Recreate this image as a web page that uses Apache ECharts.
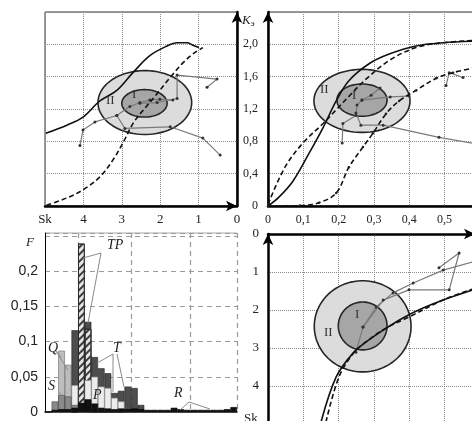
<!DOCTYPE html>
<html><head><meta charset="utf-8">
<script src="https://cdn.jsdelivr.net/npm/echarts@6/dist/echarts.min.js"></script>
<style>html,body{margin:0;padding:0;background:#fff}#c{width:472px;height:421px}</style>
</head><body><div id="c"></div>
<script>
// ---------- top-left panel: Sk (x, reversed) vs K ----------
const tlSolid = [[4.98,0.90],[4.43,1.00],[4.01,1.10],[3.57,1.30],[3.13,1.43],[2.71,1.65],[2.27,1.86],[1.82,1.98],[1.56,2.02],[1.30,2.02],[1.15,1.99],[0.99,1.96]];
const tlDashed = [[4.96,0.01],[4.43,0.10],[4.01,0.20],[3.57,0.36],[3.23,0.57],[2.97,0.78],[2.71,1.02],[2.45,1.18],[2.08,1.39],[1.74,1.59],[1.41,1.77],[1.15,1.88],[0.89,1.96]];
const tlTraj1 = [[0.78,1.47],[0.52,1.57],[1.56,1.62],[1.56,1.33],[2.08,1.28],[2.53,1.27]];
const tlTraj2 = [[4.09,0.75],[4.01,0.94],[3.70,1.04],[3.13,1.12],[2.92,0.96],[1.74,0.98],[0.89,0.84],[0.44,0.63]];
const tlTraj3 = [[3.13,1.12],[2.79,1.23],[2.53,1.28],[2.27,1.31],[2.01,1.32],[1.67,1.31]];
const tlEllipses = [[2.40,1.28,1.22,0.395],[2.41,1.27,0.59,0.17]]; // cx, cy, rx, ry

// ---------- top-right panel: x vs K ----------
const trSolid = [[0,0],[0.031,0.11],[0.071,0.31],[0.116,0.65],[0.156,0.97],[0.193,1.30],[0.229,1.55],[0.286,1.76],[0.343,1.88],[0.419,1.98],[0.496,2.02],[0.586,2.04]];
const trDashed1 = [[0,0.02],[0.048,0.48],[0.099,0.78],[0.156,1.02],[0.193,1.19],[0.232,1.37],[0.275,1.56],[0.343,1.80],[0.419,1.96],[0.496,2.02],[0.586,2.05]];
const trDashed2 = [[0,0],[0.09,0.005],[0.144,0.04],[0.193,0.16],[0.229,0.48],[0.269,0.73],[0.297,0.90],[0.334,1.14],[0.371,1.30],[0.419,1.43],[0.476,1.58],[0.524,1.65],[0.586,1.71]];
const trTraj1 = [[0.210,0.78],[0.212,1.02],[0.249,1.12],[0.252,1.25],[0.266,1.31],[0.292,1.37],[0.317,1.46]];
const trTraj2 = [[0.249,1.15],[0.263,1.00],[0.326,1.00],[0.484,0.85],[0.586,0.77]];
const trTraj3 = [[0.266,1.31],[0.346,1.35],[0.399,1.36]];
const trTraj4 = [[0.504,1.49],[0.513,1.65],[0.552,1.59]];
const trEllipses = [[0.266,1.30,0.136,0.39],[0.266,1.31,0.071,0.20]];

// ---------- bottom-right panel: x vs Sk (down) ----------
const brSolid = [[0.150,4.95],[0.193,3.76],[0.241,3.13],[0.278,2.84],[0.326,2.53],[0.382,2.21],[0.439,1.95],[0.513,1.68],[0.586,1.45]];
const brDashed = [[0.164,4.95],[0.201,3.76],[0.244,3.11],[0.280,2.82],[0.330,2.50],[0.400,2.18],[0.500,1.72],[0.586,1.43]];
const brTraj1 = [[0.249,3.11],[0.269,2.45],[0.306,1.92],[0.354,1.55],[0.411,1.29],[0.496,0.95],[0.586,0.72]];
const brTraj2 = [[0.269,2.45],[0.326,1.74],[0.399,1.47],[0.513,1.47],[0.541,0.50],[0.484,0.89]];
const brEllipses = [[0.268,2.43,0.137,1.20],[0.268,2.42,0.069,0.63]];

// ---------- bottom-left histogram F ----------
const bins = ['0','1','2','3','4','5','6','7','8','9','10','11','12','13','14','15','16','17','18','19','20','21','22','23','24','25','26','27','28'];
const histQ  = [0,0,0.087,0.067,0,0,0,0,0,0,0,0,0,0,0,0,0,0,0,0,0,0,0,0,0,0,0,0,0];
const histT  = [0,0,0,0,0.116,0,0.128,0.078,0.062,0.055,0.027,0.030,0.036,0.034,0.010,0,0,0,0,0,0,0,0,0,0,0,0,0,0];
const histTP = [0,0,0,0,0,0.239,0.118,0,0,0,0,0,0,0,0,0,0,0,0,0,0,0,0,0,0,0,0,0,0];
const histP  = [0,0,0,0,0.038,0,0.045,0.050,0.036,0.034,0.020,0.015,0,0,0,0,0,0,0,0,0,0,0,0,0,0,0,0,0];
const histS  = [0,0.015,0.024,0.022,0.010,0,0,0,0,0,0,0,0,0,0,0,0,0,0,0,0,0,0,0,0,0,0,0,0];
const histR  = [0,0.003,0.004,0.004,0.006,0.013,0.018,0.012,0.006,0.005,0.004,0.005,0.004,0.005,0.004,0.003,0.003,0.003,0.003,0.006,0.004,0.003,0.003,0.003,0.003,0.003,0.003,0.004,0.007];
const histSplits = [5,13,22];

const serif = "'Liberation Serif','DejaVu Serif',serif";
const sans = "'Liberation Sans','DejaVu Sans',sans-serif";
const dotted = {show:true, lineStyle:{color:'#8a8a8a', type:'dotted', width:1}};
const thick = (sym) => ({show:true, lineStyle:{color:'#000', width:2.5}, symbol:sym, symbolSize:[8,11]});
const comma1 = v => v === 0 ? '0' : v.toFixed(1).replace('.', ',');
const comma2 = v => v === 0 ? '0' : String(parseFloat(v.toFixed(2))).replace('.', ',');

function ellipseItem(params, api){
  const c = api.coord([api.value(0), api.value(1)]);
  const s = api.size([api.value(2), api.value(3)]);
  const rx = Math.abs(s[0]), ry = Math.abs(s[1]);
  const pts = [];
  for (let i = 0; i < 90; i++) { const a = i / 90 * 2 * Math.PI; pts.push([c[0] + rx*Math.cos(a), c[1] + ry*Math.sin(a)]); }
  const inner = params.dataIndex === 1;
  return {type:'polygon', shape:{points:pts}, style:{fill: inner ? '#a6a6a6' : '#dcdcdc', stroke:'#262626', lineWidth:1.6}};
}
const ell = (data, gi) => ({type:'custom', xAxisIndex:gi, yAxisIndex:gi, renderItem:ellipseItem, data, encode:{x:0,y:1}, z:1, silent:true});
const curve = (data, gi, dashed) => ({type:'line', xAxisIndex:gi, yAxisIndex:gi, data, smooth:0.35, showSymbol:false, z:5,
  lineStyle:{color:'#111', width:1.6, type: dashed ? [5,3] : 'solid'}});
const traj = (data, gi) => ({type:'line', xAxisIndex:gi, yAxisIndex:gi, data, symbol:'circle', symbolSize:3, z:4,
  itemStyle:{color:'#333'}, lineStyle:{color:'#7a7a7a', width:1.2}});
const bar = (data, color, border, extra) => Object.assign({type:'bar', xAxisIndex:2, yAxisIndex:2, data, barGap:'-100%', barCategoryGap:'0%', barWidth:'100%',
  itemStyle:{color, borderColor:border, borderWidth:0.6}}, extra || {});

const chart = echarts.init(document.getElementById('c'), null, {renderer:'canvas'});
chart.setOption({
  animation:false,
  backgroundColor:'#fff',
  grid:[
    {left:45, top:12, width:192, height:194, show:true, borderColor:'#333', borderWidth:1, outerBoundsMode:'none', containLabel:false},
    {left:268, top:12, width:207, height:194, show:true, borderColor:'#333', borderWidth:1, outerBoundsMode:'none', containLabel:false},
    {left:45, top:233, width:192, height:179, outerBoundsMode:'none', containLabel:false},
    {left:268, top:234, width:207, height:190, outerBoundsMode:'none', containLabel:false}
  ],
  xAxis:[
    {gridIndex:0, type:'value', min:0, max:5, interval:1, inverse:true, position:'bottom',
     axisLine:thick(['none','arrow']), axisTick:{show:false}, splitLine:dotted,
     axisLabel:{showMinLabel:true, showMaxLabel:true, margin:7, color:'#222', fontFamily:serif, fontSize:13, formatter:v => v === 5 ? 'Sk' : String(v)}},
    {gridIndex:1, type:'value', min:0, max:0.586, interval:0.1, position:'bottom',
     axisLine:thick(['none','none']), axisTick:{show:false}, splitLine:dotted,
     axisLabel:{margin:8, color:'#222', fontFamily:serif, fontSize:12, formatter:v => v > 0.55 ? '' : comma1(v)}},
    {gridIndex:2, type:'category', data:bins, position:'bottom',
     axisLine:{show:true, lineStyle:{color:'#000', width:1.5}}, axisTick:{show:false}, axisLabel:{show:false},
     splitLine:{show:true, interval:(i) => histSplits.indexOf(i) >= 0, lineStyle:{color:'#9a9a9a', type:[5,4], width:1.2}}},
    {gridIndex:3, type:'value', min:0, max:0.586, interval:0.1, position:'top',
     axisLine:thick(['none','arrow']), axisTick:{show:false}, axisLabel:{show:false}, splitLine:dotted}
  ],
  yAxis:[
    {gridIndex:0, type:'value', min:0, max:2.4, interval:0.4, position:'right',
     axisLine:thick(['none','arrow']), axisTick:{show:false}, axisLabel:{show:false}, splitLine:dotted},
    {gridIndex:1, type:'value', min:0, max:2.4, interval:0.4, position:'left',
     axisLine:thick(['none','arrow']), axisTick:{show:false}, splitLine:dotted,
     axisLabel:{margin:10, color:'#222', fontFamily:serif, fontSize:12, formatter:v => v > 2.2 ? '' : comma1(v)}},
    {gridIndex:2, type:'value', min:0, max:0.254, interval:0.05, position:'left',
     axisLine:{show:true, lineStyle:{color:'#000', width:1}}, axisTick:{show:false},
     splitLine:{show:true, lineStyle:{color:'#9a9a9a', type:[5,4], width:1.2}},
     axisLabel:{margin:7, color:'#222', fontFamily:sans, fontSize:14, formatter:v => v > 0.24 ? '' : comma2(v)}},
    {gridIndex:3, type:'value', min:0, max:5, interval:1, inverse:true, position:'left',
     axisLine:thick(['none','arrow']), axisTick:{show:false}, splitLine:dotted,
     axisLabel:{margin:9, color:'#222', fontFamily:serif, fontSize:13, formatter:v => v >= 5 ? '' : String(v)}}
  ],
  series:[
    ell(tlEllipses, 0), curve(tlSolid, 0, false), curve(tlDashed, 0, true),
    traj(tlTraj1, 0), traj(tlTraj2, 0), traj(tlTraj3, 0),
    ell(trEllipses, 1), curve(trSolid, 1, false), curve(trDashed1, 1, true),
    Object.assign(curve(trDashed2, 1, true), {showSymbol:true, symbol:'circle', symbolSize:2.5, itemStyle:{color:'#222'}}),
    traj(trTraj1, 1), traj(trTraj2, 1), traj(trTraj3, 1), traj(trTraj4, 1),
    ell(brEllipses, 3), curve(brSolid, 3, false), curve(brDashed, 3, true),
    traj(brTraj1, 3), traj(brTraj2, 3),
    bar(histQ, '#bdbdbd', '#6a6a6a'),
    bar(histT, '#4d4d4d', '#1e1e1e'),
    bar(histTP, '#e4e4e4', '#222', {itemStyle:{color:'#e4e4e4', borderColor:'#222', borderWidth:0.8,
      decal:{symbol:'rect', symbolSize:1, color:'#3a3a3a', dashArrayX:[1,0], dashArrayY:[2,3], rotation:-Math.PI/4}}}),
    bar(histP, '#ececec', '#9a9a9a'),
    bar(histS, '#8a8a8a', '#444'),
    bar(histR, '#111', '#000')
  ],
  graphic:[
    {type:'text', left:242, top:14, style:{text:'{k|K}{s|э}', rich:{k:{fontFamily:serif, fontStyle:'italic', fontSize:13, fill:'#222'}, s:{fontFamily:serif, fontSize:9, fill:'#222', padding:[6,0,0,0]}}}},
    {type:'text', left:244, top:412, style:{text:'Sk', font:'13px '+serif, fill:'#222'}},
    {type:'text', left:26, top:236, style:{text:'F', font:'italic 13px '+serif, fill:'#222'}},
    {type:'line', shape:{x1:45, y1:233, x2:237, y2:233}, style:{stroke:'#aaa', lineWidth:1}},
    // ellipse labels
    {type:'text', left:106, top:94, z:10, style:{text:'II', font:'13px '+serif, fill:'#333'}},
    {type:'text', left:132, top:88, z:10, style:{text:'I', font:'13px '+serif, fill:'#333'}},
    {type:'text', left:320, top:83, z:10, style:{text:'II', font:'13px '+serif, fill:'#333'}},
    {type:'text', left:352, top:89, z:10, style:{text:'I', font:'13px '+serif, fill:'#333'}},
    {type:'text', left:324, top:326, z:10, style:{text:'II', font:'13px '+serif, fill:'#333'}},
    {type:'text', left:355, top:308, z:10, style:{text:'I', font:'13px '+serif, fill:'#333'}},
    // histogram annotations
    {type:'text', left:107, top:238, z:20, style:{text:'TP', font:'italic 14px '+serif, fill:'#222'}},
    {type:'text', left:48, top:341, z:20, style:{text:'Q', font:'italic 14px '+serif, fill:'#222'}},
    {type:'text', left:113, top:341, z:20, style:{text:'T', font:'italic 14px '+serif, fill:'#222'}},
    {type:'text', left:48, top:379, z:20, style:{text:'S', font:'italic 14px '+serif, fill:'#222'}},
    {type:'text', left:93, top:388, z:20, style:{text:'P', font:'italic 14px '+serif, fill:'#222'}},
    {type:'text', left:174, top:386, z:20, style:{text:'R', font:'italic 14px '+serif, fill:'#222'}},
    {type:'polyline', z:20, shape:{points:[[83,258],[101,253],[88,323]]}, style:{stroke:'#8a8a8a', lineWidth:1, fill:null}},
    {type:'polyline', z:20, shape:{points:[[61,357],[56,351],[68,370]]}, style:{stroke:'#8a8a8a', lineWidth:1, fill:null}},
    {type:'polyline', z:20, shape:{points:[[97,363],[113,354],[113,392]]}, style:{stroke:'#8a8a8a', lineWidth:1, fill:null}},
    {type:'line', z:20, shape:{x1:117, y1:354, x2:124, y2:387}, style:{stroke:'#8a8a8a', lineWidth:1}},
    {type:'line', z:20, shape:{x1:58, y1:391, x2:63, y2:397}, style:{stroke:'#8a8a8a', lineWidth:1}},
    {type:'polyline', z:20, shape:{points:[[180,410],[189,402],[210,409]]}, style:{stroke:'#8a8a8a', lineWidth:1, fill:null}}
  ]
});
</script></body></html>
